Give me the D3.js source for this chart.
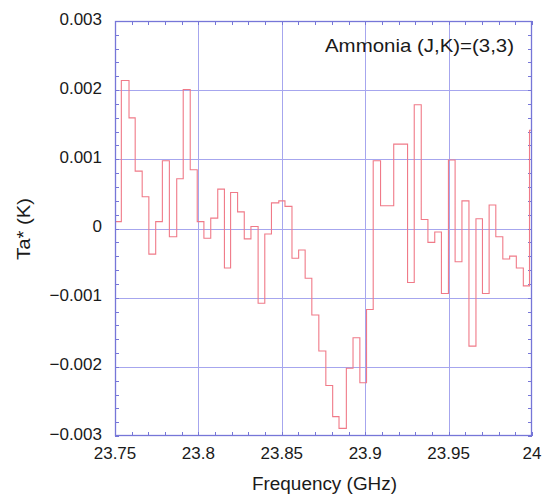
<!DOCTYPE html>
<html>
<head>
<meta charset="utf-8">
<script src="https://cdn.jsdelivr.net/npm/d3@7"></script>
<style>
  html, body { margin: 0; padding: 0; background: #fff; }
  svg { display: block; }
  text { font-family: "Liberation Sans", Arial, sans-serif; fill: #1a1a1a; }
</style>
</head>
<body>
<svg id="chart" width="547" height="494"></svg>
<script>
// ---- data ----
// channel start frequencies (GHz)
const freqs = [23.75, 23.7538, 23.7584, 23.7621, 23.7663, 23.7703, 23.7744, 23.7784, 23.7826, 23.7870,
  23.7909, 23.7951, 23.7993, 23.8033, 23.8074, 23.8116, 23.8156, 23.8193, 23.8235, 23.8275,
  23.8315, 23.8358, 23.8398, 23.8438, 23.8482, 23.8519, 23.8561, 23.8601, 23.8640, 23.8680,
  23.8722, 23.8764, 23.8805, 23.8843, 23.8887, 23.8927, 23.8968, 23.9008, 23.9048, 23.9092,
  23.9131, 23.9171, 23.9213, 23.9254, 23.9294, 23.9336, 23.9376, 23.9417, 23.9457, 23.9499,
  23.9539, 23.9580, 23.9622, 23.9664, 23.9703, 23.9743, 23.9783, 23.9825, 23.9866, 23.9906,
  23.9948, 23.9985];
// antenna temperature Ta* (K)
const taValues = [0.0001, 0.00214, 0.00160, 0.00083, 0.00046, -0.00037, 0.00010, 0.00098, -0.00012, 0.00072,
  0.00201, 0.00085, 0.00010, -0.00014, 0.00015, 0.00057, -0.00057, 0.00052, 0.00024, -0.00015,
  0.00003, -0.00108, -0.00008, 0.00037, 0.00040, 0.00032, -0.00043, -0.00031, -0.00072, -0.00125,
  -0.00177, -0.00227, -0.00272, -0.00289, -0.00202, -0.00158, -0.00223, -0.00117, 0.00098, 0.00033,
  0.00033, 0.00122, 0.00122, -0.00078, 0.00179, 0.00013, -0.00020, -0.00005, -0.00094, 0.00099,
  -0.00048, 0.00040, -0.00170, 0.00014, -0.00094, 0.00034, -0.00012, -0.00044, -0.00040, -0.00057,
  -0.00083, 0.00142];
const xTicks = [23.75, 23.8, 23.85, 23.9, 23.95, 24];
const xTickLabels = ["23.75", "23.8", "23.85", "23.9", "23.95", "24"];
const yTicks = [-0.003, -0.002, -0.001, 0, 0.001, 0.002, 0.003];
const yTickLabels = ["\u22120.003", "\u22120.002", "\u22120.001", "0", "0.001", "0.002", "0.003"];
const xLabel = "Frequency (GHz)";
const yLabel = "Ta* (K)";
const title = "Ammonia (J,K)=(3,3)";

// ---- layout ----
const L = 115, R = 532, T = 21, B = 436;
const frameColor = "#7676d8";
const gridColor = "#a6a6ee";
const lineColor = "#f07a88";

const svg = d3.select("#chart");
const x = d3.scaleLinear().domain([23.75, 24]).range([L, R]);
const y = d3.scaleLinear().domain([-0.003, 0.003]).range([B, T]);

// grid lines
svg.append("g").selectAll("line").data(xTicks.slice(1, -1)).join("line")
  .attr("x1", d => Math.round(x(d)) + 0.5).attr("x2", d => Math.round(x(d)) + 0.5)
  .attr("y1", T).attr("y2", B)
  .attr("stroke", gridColor).attr("stroke-width", 1);
svg.append("g").selectAll("line").data(yTicks.slice(1, -1)).join("line")
  .attr("y1", d => Math.round(y(d)) + 0.5).attr("y2", d => Math.round(y(d)) + 0.5)
  .attr("x1", L).attr("x2", R)
  .attr("stroke", gridColor).attr("stroke-width", 1);

// minor ticks (inside)
const xMinor = d3.range(0, 26).map(i => 23.75 + i * 0.01);
const yMinor = d3.range(0, 31).map(i => -0.003 + i * 0.0002);
const tk = svg.append("g").attr("stroke", frameColor).attr("stroke-width", 1);
tk.selectAll(".xb").data(xMinor).join("line")
  .attr("x1", d => Math.round(x(d)) + 0.5).attr("x2", d => Math.round(x(d)) + 0.5)
  .attr("y1", B).attr("y2", B - 4);
tk.selectAll(".xt").data(xMinor).join("line")
  .attr("x1", d => Math.round(x(d)) + 0.5).attr("x2", d => Math.round(x(d)) + 0.5)
  .attr("y1", T).attr("y2", T + 4);
tk.selectAll(".yl").data(yMinor).join("line")
  .attr("y1", d => Math.round(y(d)) + 0.5).attr("y2", d => Math.round(y(d)) + 0.5)
  .attr("x1", L).attr("x2", L + 4);
tk.selectAll(".yr").data(yMinor).join("line")
  .attr("y1", d => Math.round(y(d)) + 0.5).attr("y2", d => Math.round(y(d)) + 0.5)
  .attr("x1", R).attr("x2", R - 4);

// spectrum step line
svg.append("clipPath").attr("id", "clip").append("rect")
  .attr("x", L).attr("y", T).attr("width", R - L).attr("height", B - T);
const pts = freqs.map((f, i) => [f, taValues[i]]);
pts.push([24, taValues[taValues.length - 1]]);
const line = d3.line().x(d => x(d[0])).y(d => y(d[1])).curve(d3.curveStepAfter);
svg.append("path").datum(pts)
  .attr("clip-path", "url(#clip)")
  .attr("d", line)
  .attr("fill", "none").attr("stroke", lineColor).attr("stroke-width", 1.1);

// frame
svg.append("rect").attr("x", L + 0.5).attr("y", T + 0.5)
  .attr("width", R - L - 1).attr("height", B - T - 1)
  .attr("fill", "none").attr("stroke", frameColor).attr("stroke-width", 1.3);

// tick labels
svg.append("g").selectAll("text").data(xTicks).join("text")
  .attr("x", d => x(d)).attr("y", B + 23)
  .attr("text-anchor", "middle").attr("font-size", 17)
  .text((d, i) => xTickLabels[i]);
svg.append("g").selectAll("text").data(yTicks).join("text")
  .attr("x", 102).attr("y", d => y(d) + 3.5)
  .attr("text-anchor", "end").attr("font-size", 17)
  .text((d, i) => yTickLabels[i]);

// axis titles
svg.append("text").attr("x", 252).attr("y", 490)
  .attr("font-size", 18).attr("textLength", 145).attr("lengthAdjust", "spacingAndGlyphs")
  .text(xLabel);
svg.append("text").attr("transform", "translate(30,229) rotate(-90)")
  .attr("text-anchor", "middle").attr("font-size", 18)
  .attr("textLength", 62).attr("lengthAdjust", "spacingAndGlyphs")
  .text(yLabel);
svg.append("text").attr("x", 325).attr("y", 52)
  .attr("font-size", 18.5).attr("textLength", 189).attr("lengthAdjust", "spacingAndGlyphs")
  .text(title);
</script>
</body>
</html>
